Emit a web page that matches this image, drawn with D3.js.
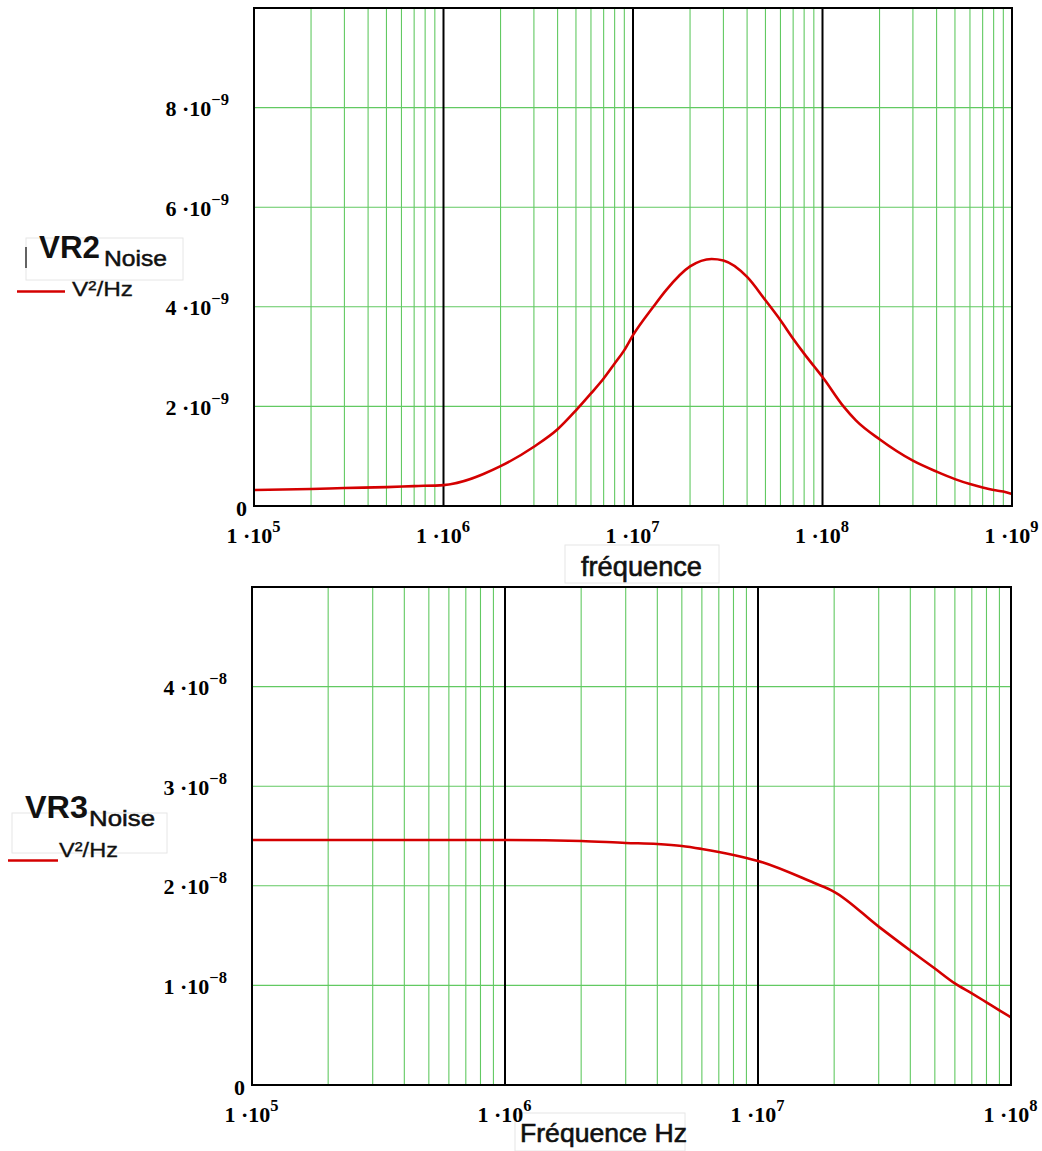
<!DOCTYPE html>
<html>
<head>
<meta charset="utf-8">
<script src="https://cdn.jsdelivr.net/npm/d3@7"></script>
<style>
  html, body { margin: 0; padding: 0; background: #ffffff; }
  svg { display: block; }
</style>
</head>
<body>
<script>
// ---------------- DATA ----------------
// Top chart: VR2 noise (V²/Hz) vs frequency
const freqVR2 = [1e5, 2e5, 3e5, 5e5, 7e5, 1e6, 2e6, 3e6, 4e6, 5e6, 6e6, 7e6, 8e6, 9e6,
  1e7, 1.28e7, 1.5e7, 2e7, 2.6e7, 3e7, 4e7, 5e7, 6e7, 7e7, 8e7, 9e7,
  1e8, 1.29e8, 1.5e8, 2e8, 3e8, 4e8, 5e8, 6e8, 7e8, 8e8, 9e8, 1e9];
const noiseVR2 = [0.32e-9, 0.34e-9, 0.36e-9, 0.38e-9, 0.40e-9, 0.42e-9, 0.80e-9, 1.19e-9, 1.54e-9, 1.92e-9, 2.26e-9, 2.56e-9, 2.86e-9, 3.13e-9,
  3.43e-9, 4.00e-9, 4.34e-9, 4.81e-9, 4.96e-9, 4.93e-9, 4.60e-9, 4.13e-9, 3.73e-9, 3.36e-9, 3.06e-9, 2.81e-9,
  2.59e-9, 2.00e-9, 1.72e-9, 1.34e-9, 0.91e-9, 0.69e-9, 0.54e-9, 0.44e-9, 0.37e-9, 0.32e-9, 0.29e-9, 0.24e-9];

// Bottom chart: VR3 noise (V²/Hz) vs frequency
const freqVR3 = [1e5, 1e6, 2e6, 3e6, 4e6, 5e6, 6e6, 7e6, 8e6, 9e6, 1e7, 1.66e7, 2e7, 3e7, 4e7, 5e7, 6e7, 7e7, 8e7, 9e7, 1e8];
const noiseVR3 = [2.46e-8, 2.46e-8, 2.45e-8, 2.43e-8, 2.42e-8, 2.40e-8, 2.37e-8, 2.34e-8, 2.31e-8, 2.28e-8, 2.25e-8, 2.03e-8, 1.94e-8, 1.59e-8, 1.35e-8, 1.17e-8, 1.02e-8, 0.92e-8, 0.83e-8, 0.75e-8, 0.68e-8];

// Axis ticks and labels
const xTicksTop = [1e5, 1e6, 1e7, 1e8, 1e9];
const xTickLabelsTop = ["1 ·10^5", "1 ·10^6", "1 ·10^7", "1 ·10^8", "1 ·10^9"];
const yTicksTop = [0, 2e-9, 4e-9, 6e-9, 8e-9];
const yTickLabelsTop = ["0", "2 ·10^\u22129", "4 ·10^\u22129", "6 ·10^\u22129", "8 ·10^\u22129"];

const xTicksBottom = [1e5, 1e6, 1e7, 1e8];
const xTickLabelsBottom = ["1 ·10^5", "1 ·10^6", "1 ·10^7", "1 ·10^8"];
const yTicksBottom = [0, 1e-8, 2e-8, 3e-8, 4e-8];
const yTickLabelsBottom = ["0", "1 ·10^\u22128", "2 ·10^\u22128", "3 ·10^\u22128", "4 ·10^\u22128"];

const xTitleTop = "fréquence";
const xTitleBottom = "Fréquence Hz";
const yNameTop = "VR2", yNameBottom = "VR3", ySub = "Noise", yUnit = "V²/Hz";

// ---------------- DRAW ----------------
const W = 1042, H = 1151;
const svg = d3.select("body").append("svg").attr("width", W).attr("height", H);

const GREEN = "#62c962";
const RED = "#d40000";
const SERIF = "'Liberation Serif', 'Times New Roman', serif";
const SANS = "'Liberation Sans', Arial, sans-serif";

function sciText(g, label, anchor, x, y) {
  const parts = label.split("^");
  const t = g.append("text")
    .attr("x", x).attr("y", y)
    .attr("text-anchor", anchor)
    .attr("font-family", SERIF)
    .attr("font-weight", "bold")
    .attr("font-size", 22)
    .attr("fill", "#000");
  t.append("tspan").text(parts[0]);
  if (parts.length > 1) {
    t.append("tspan").attr("font-size", 16.5).attr("dy", -11).text(parts[1]);
  }
  return t;
}

// ---- text boxes (drawn first, behind everything) ----
function box(x, y, w, h) {
  svg.append("rect").attr("x", x).attr("y", y).attr("width", w).attr("height", h)
    .attr("fill", "none").attr("stroke", "#e6e6e6").attr("stroke-width", 1);
}
box(565, 545, 154, 38);
box(515, 1113, 170, 38);
box(26, 238, 157, 42);
box(12, 813, 155, 40);

function panel(cfg) {
  const x = d3.scaleLog().domain(cfg.xDomain).range([cfg.left, cfg.right]);
  const y = d3.scaleLinear().domain(cfg.yDomain).range([cfg.bottom, cfg.top]);
  const g = svg.append("g");

  // minor vertical grid (2..9 per decade)
  const minor = [];
  const d0 = Math.round(Math.log10(cfg.xDomain[0])), d1 = Math.round(Math.log10(cfg.xDomain[1]));
  for (let d = d0; d < d1; d++) for (let k = 2; k <= 9; k++) minor.push(k * Math.pow(10, d));
  g.append("g").selectAll("line").data(minor).join("line")
    .attr("x1", d => x(d)).attr("x2", d => x(d))
    .attr("y1", cfg.top).attr("y2", cfg.bottom)
    .attr("stroke", GREEN).attr("stroke-width", 1.1);

  // horizontal grid
  g.append("g").selectAll("line").data(cfg.yTicks.filter(v => v > 0)).join("line")
    .attr("x1", cfg.left).attr("x2", cfg.right)
    .attr("y1", d => y(d)).attr("y2", d => y(d))
    .attr("stroke", GREEN).attr("stroke-width", 1.1);

  // major decade lines
  g.append("g").selectAll("line").data(cfg.xTicks.slice(1, -1)).join("line")
    .attr("x1", d => x(d)).attr("x2", d => x(d))
    .attr("y1", cfg.top).attr("y2", cfg.bottom)
    .attr("stroke", "#000").attr("stroke-width", 2);

  // curve
  const line = d3.line().x(d => x(d[0])).y(d => y(d[1])).curve(d3.curveMonotoneX);
  g.append("path")
    .datum(cfg.freq.map((f, i) => [f, cfg.vals[i]]))
    .attr("d", line)
    .attr("fill", "none").attr("stroke", RED).attr("stroke-width", 2.6)
    .attr("stroke-linejoin", "round");

  // border
  g.append("rect")
    .attr("x", cfg.left).attr("y", cfg.top)
    .attr("width", cfg.right - cfg.left).attr("height", cfg.bottom - cfg.top)
    .attr("fill", "none").attr("stroke", "#000").attr("stroke-width", 2);

  // x axis
  const xAxis = g.append("g").attr("transform", `translate(0,${cfg.bottom})`)
    .call(d3.axisBottom(x).tickValues(cfg.xTicks).tickSize(0).tickFormat(""));
  xAxis.select(".domain").remove();
  xAxis.selectAll(".tick").each(function (d, i) {
    sciText(d3.select(this), cfg.xLabels[i], "middle", -1, 37);
  });

  // y axis
  const yAxis = g.append("g").attr("transform", `translate(${cfg.left},0)`)
    .call(d3.axisLeft(y).tickValues(cfg.yTicks).tickSize(0).tickFormat(""));
  yAxis.select(".domain").remove();
  yAxis.selectAll(".tick").each(function (d, i) {
    if (d === 0) sciText(d3.select(this), cfg.yLabels[i], "end", -7, 9);
    else sciText(d3.select(this), cfg.yLabels[i], "end", -25, 8);
  });
  return { x, y };
}

panel({
  left: 254, right: 1012, top: 8, bottom: 506,
  xDomain: [1e5, 1e9], yDomain: [0, 1e-8],
  xTicks: xTicksTop, xLabels: xTickLabelsTop,
  yTicks: yTicksTop, yLabels: yTickLabelsTop,
  freq: freqVR2, vals: noiseVR2
});

panel({
  left: 252, right: 1011, top: 587, bottom: 1085,
  xDomain: [1e5, 1e8], yDomain: [0, 5e-8],
  xTicks: xTicksBottom, xLabels: xTickLabelsBottom,
  yTicks: yTicksBottom, yLabels: yTickLabelsBottom,
  freq: freqVR3, vals: noiseVR3
});

function sansText(txt, x, y, size, weight, len) {
  const t = svg.append("text").attr("x", x).attr("y", y)
    .attr("font-family", SANS).attr("font-size", size).attr("font-weight", weight)
    .attr("fill", "#111").text(txt);
  if (len) t.attr("textLength", len).attr("lengthAdjust", "spacingAndGlyphs");
  return t;
}

// X titles
sansText(xTitleTop, 581, 576, 27, "normal", 121).attr("stroke", "#111").attr("stroke-width", 0.6);
sansText(xTitleBottom, 520, 1142, 26, "normal", 167).attr("stroke", "#111").attr("stroke-width", 0.6);

// Top Y label
svg.append("line").attr("x1", 26).attr("x2", 26).attr("y1", 247).attr("y2", 268)
  .attr("stroke", "#333").attr("stroke-width", 1.5);
sansText(yNameTop, 39, 258, 32, "bold", 61);
sansText(ySub, 104, 266, 22, "normal", 63).attr("stroke", "#111").attr("stroke-width", 0.5);
svg.append("line").attr("x1", 17).attr("x2", 65).attr("y1", 291.5).attr("y2", 291.5)
  .attr("stroke", RED).attr("stroke-width", 2.5);
sansText(yUnit, 72, 296, 21, "normal", 61).attr("stroke", "#111").attr("stroke-width", 0.3);

// Bottom Y label
sansText(yNameBottom, 25, 818, 32, "bold", 63);
sansText(ySub, 89, 826, 22, "normal", 66).attr("stroke", "#111").attr("stroke-width", 0.5);
svg.append("line").attr("x1", 8).attr("x2", 58).attr("y1", 860.5).attr("y2", 860.5)
  .attr("stroke", RED).attr("stroke-width", 2.5);
sansText(yUnit, 59, 857, 21, "normal", 59).attr("stroke", "#111").attr("stroke-width", 0.3);
</script>
</body>
</html>
